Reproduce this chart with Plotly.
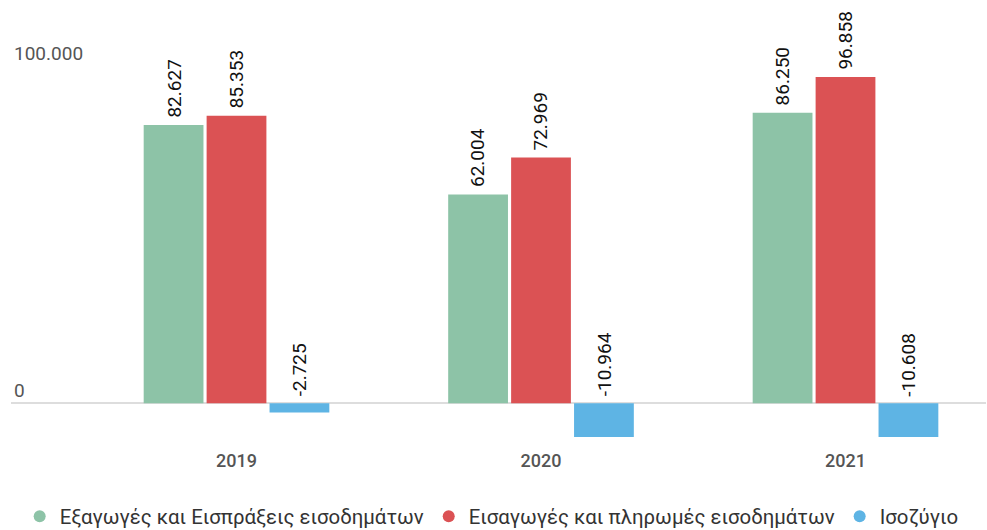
import plotly.graph_objects as go

years = ["2019", "2020", "2021"]
exports = [82627, 62004, 86250]
imports = [85353, 72969, 96858]
balance = [-2725, -10964, -10608]
series_names = ["Εξαγωγές και Εισπράξεις εισοδημάτων",
                "Εισαγωγές και πληρωμές εισοδημάτων",
                "Ισοζύγιο"]
colors = ["#8DC3A7", "#DB5254", "#5EB4E4"]
y_ticks = [0, 100000]
y_tick_labels = ["0", "100.000"]


def fmt(v):
    return f"{v:,}".replace(",", ".")


BARGAP = 0.38
FONT = "Roboto, 'Noto Sans', sans-serif"
slot = (1 - BARGAP) / 3

fig = go.Figure()
all_series = [exports, imports, balance]
for k, (name, vals, col) in enumerate(zip(series_names, all_series, colors)):
    fig.add_trace(go.Bar(
        x=years, y=vals, name=name, marker=dict(color=col, line=dict(width=0)),
        cliponaxis=True, showlegend=False, hoverinfo="skip",
    ))
    fig.add_trace(go.Scatter(
        x=[None], y=[None], mode="markers", name=name,
        marker=dict(symbol="circle", size=16, color=col), showlegend=True,
    ))
    # value labels: above the bar top for positive values, above zero line for negatives
    for i, v in enumerate(vals):
        fig.add_annotation(
            x=i + (k - 1) * slot, y=max(v, 0), xref="x", yref="y", text=fmt(v),
            showarrow=False, textangle=-90, yanchor="bottom", xanchor="center",
            yshift=5, font=dict(family=FONT, size=19, color="#111111"),
        )

fig.update_layout(
    width=987, height=530,
    margin=dict(l=11, r=1, t=0, b=93, autoexpand=False),
    paper_bgcolor="white", plot_bgcolor="white",
    barmode="group", bargap=BARGAP, bargroupgap=0.05,
    font=dict(family=FONT, color="#555555"),
    separators=",.",
    xaxis=dict(type="category", range=[-0.7406, 2.4614], showgrid=False,
               automargin=False,
               showline=False, ticks="outside", ticklen=7, tickcolor="rgba(0,0,0,0)",
               tickfont=dict(size=18, color="#555555", weight=500)),
    yaxis=dict(range=[-10000, 119740], tickvals=y_ticks, ticktext=y_tick_labels,
               automargin=False,
               ticklabelposition="inside top", showgrid=False,
               zeroline=True, zerolinecolor="#dddddd", zerolinewidth=2,
               tickfont=dict(size=19, color="#555555")),
    legend=dict(orientation="h", x=0.493, xanchor="center", yref="paper",
                y=-0.182, yanchor="middle",
                font=dict(size=20.4, color="#333333"), itemsizing="constant"),
)

fig.write_html("out.html", config={"displayModeBar": False},
               post_script="document.body.style.margin='0';")
